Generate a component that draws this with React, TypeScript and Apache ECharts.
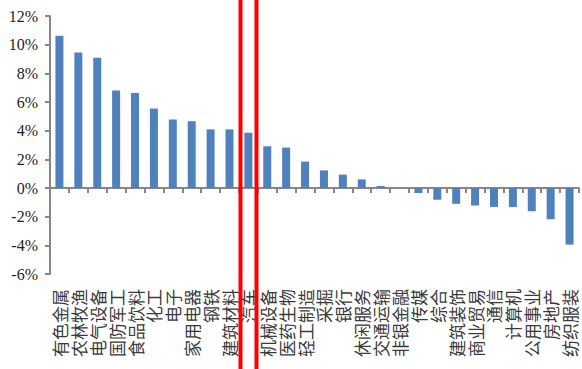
import React, { useEffect, useRef } from "react";
import * as echarts from "echarts";

// 申万一级行业涨跌幅
const industries = [
  "有色金属", "农林牧渔", "电气设备", "国防军工", "食品饮料", "化工", "电子",
  "家用电器", "钢铁", "建筑材料", "汽车", "机械设备", "医药生物", "轻工制造",
  "采掘", "银行", "休闲服务", "交通运输", "非银金融", "传媒", "综合",
  "建筑装饰", "商业贸易", "通信", "计算机", "公用事业", "房地产", "纺织服装",
];

// 涨跌幅（%）
const changes = [
  10.62, 9.45, 9.08, 6.81, 6.63, 5.54, 4.78,
  4.66, 4.09, 4.09, 3.86, 2.91, 2.82, 1.84,
  1.23, 0.93, 0.6, 0.14, 0.02, -0.35, -0.82,
  -1.1, -1.22, -1.32, -1.33, -1.62, -2.18, -3.95,
];

const yMin = -6;
const yMax = 12;
const yStep = 2;

export default function App() {
  const ref = useRef<HTMLDivElement>(null);

  useEffect(() => {
    if (!ref.current) return;
    const chart = echarts.init(ref.current, undefined, { renderer: "svg" });
    const axisGray = "#878787";
    chart.setOption({
      animation: false,
      backgroundColor: "#ffffff",
      grid: { left: 50, right: 3, top: 16, bottom: 95, containLabel: false },
      xAxis: [
        {
          // 零轴：轴线与刻度
          type: "category",
          data: industries,
          position: "bottom",
          axisLine: { show: true, onZero: true, lineStyle: { color: axisGray, width: 2 } },
          axisTick: { show: true, interval: 0, length: 5, lineStyle: { color: axisGray, width: 2 } },
          axisLabel: { show: false },
          splitLine: { show: false },
        },
        {
          // 底部行业名称
          type: "category",
          data: industries,
          position: "bottom",
          axisLine: { show: false, onZero: false },
          axisTick: { show: false },
          axisLabel: {
            show: true,
            interval: 0,
            rotate: 90,
            margin: 15,
            fontSize: 17,
            color: "#3a3a3a",
            fontFamily: "Noto Sans CJK SC",
          },
          splitLine: { show: false },
        },
      ],
      yAxis: {
        type: "value",
        min: yMin,
        max: yMax,
        interval: yStep,
        axisLine: { show: true, lineStyle: { color: axisGray, width: 2 } },
        axisTick: { show: true, length: 5, lineStyle: { color: axisGray, width: 2 } },
        axisLabel: {
          formatter: "{value}%",
          margin: 12,
          fontSize: 16,
          color: "#222",
          fontFamily: "Liberation Serif",
        },
        splitLine: { show: false },
      },
      series: [
        {
          type: "bar",
          xAxisIndex: 0,
          data: changes,
          barWidth: 8,
          itemStyle: { color: "#4f81bd" },
        },
      ],
      graphic: [
        { type: "rect", left: 238.5, top: 0, shape: { width: 4, height: 369 }, style: { fill: "#ff0000" }, z: 100 },
        { type: "rect", left: 254.5, top: 0, shape: { width: 4, height: 369 }, style: { fill: "#ff0000" }, z: 100 },
      ],
    });
    return () => chart.dispose();
  }, []);

  return (
    <div
      ref={ref}
      style={{ position: "fixed", left: 0, top: 0, width: 582, height: 369, background: "#fff" }}
    />
  );
}
